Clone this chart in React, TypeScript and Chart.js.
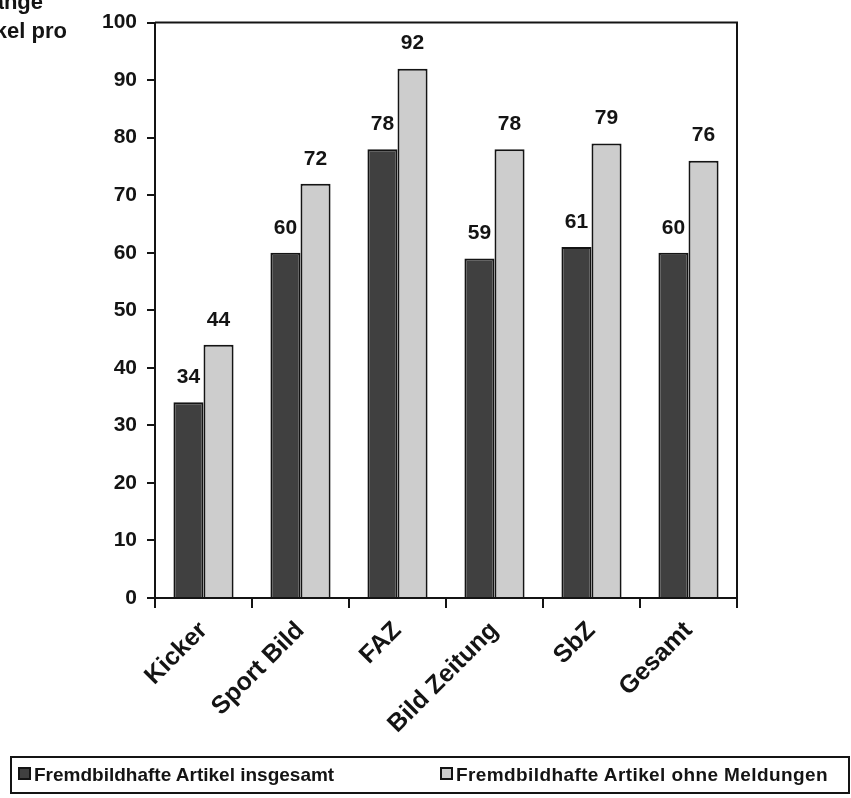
import React, { useEffect, useRef } from "react";
import { Chart, registerables } from "chart.js";

Chart.register(...registerables);

const categories = ["Kicker", "Sport Bild", "FAZ", "Bild Zeitung", "SbZ", "Gesamt"];
const seriesInsgesamt = [34, 60, 78, 59, 61, 60];
const seriesOhneMeldungen = [44, 72, 92, 78, 79, 76];
const seriesNames = ["Fremdbildhafte Artikel insgesamt", "Fremdbildhafte Artikel ohne Meldungen"];
const yTicks = [0, 10, 20, 30, 40, 50, 60, 70, 80, 90, 100];
const titleLines = ["Länge", "Artikel pro"];

const W = 851;
const H = 798;
const FONT = "'Liberation Sans', Arial, sans-serif";
const INK = "#141414";
const DARK = "#404040";
const LIGHT = "#cdcdcd";

const framePlugin = {
  id: "frame",
  afterDraw(chart: any) {
    const { ctx, chartArea } = chart;
    ctx.save();
    ctx.strokeStyle = INK;
    ctx.lineWidth = 2;
    ctx.beginPath();
    ctx.moveTo(chartArea.left, chartArea.top);
    ctx.lineTo(chartArea.right, chartArea.top);
    ctx.lineTo(chartArea.right, chartArea.bottom);
    ctx.stroke();
    ctx.restore();
  },
};

const valueLabelPlugin = {
  id: "valueLabels",
  afterDatasetsDraw(chart: any) {
    const { ctx } = chart;
    ctx.save();
    ctx.font = `bold 21px ${FONT}`;
    ctx.fillStyle = INK;
    ctx.textAlign = "center";
    ctx.textBaseline = "middle";
    chart.data.datasets.forEach((ds: any, di: number) => {
      const meta = chart.getDatasetMeta(di);
      meta.data.forEach((bar: any, i: number) => {
        ctx.fillText(String(ds.data[i]), bar.x, bar.y - 25);
      });
    });
    ctx.restore();
  },
};

const titlePlugin = {
  id: "clippedTitle",
  afterDraw(chart: any) {
    const { ctx } = chart;
    ctx.save();
    ctx.font = `bold 22px ${FONT}`;
    ctx.fillStyle = INK;
    ctx.textAlign = "right";
    ctx.textBaseline = "alphabetic";
    ctx.fillText(titleLines[0], 43, 9);
    ctx.fillText(titleLines[1], 67, 38);
    ctx.restore();
  },
};

export default function App() {
  const canvasRef = useRef<HTMLCanvasElement | null>(null);

  useEffect(() => {
    if (!canvasRef.current) return;
    const chart = new Chart(canvasRef.current, {
      type: "bar",
      data: {
        labels: categories,
        datasets: [
          {
            label: seriesNames[0],
            data: seriesInsgesamt,
            backgroundColor: DARK,
            borderColor: INK,
            borderWidth: 2,
            barPercentage: 1,
            categoryPercentage: 0.62,
          },
          {
            label: seriesNames[1],
            data: seriesOhneMeldungen,
            backgroundColor: LIGHT,
            borderColor: INK,
            borderWidth: 2,
            barPercentage: 1,
            categoryPercentage: 0.62,
          },
        ],
      },
      options: {
        responsive: false,
        animation: false,
        devicePixelRatio: 1,
        layout: { padding: { left: 0, top: 17, right: 114, bottom: 0 } },
        plugins: {
          legend: { display: false },
          tooltip: { enabled: false },
          title: { display: false },
        },
        scales: {
          x: {
            grid: {
              display: true,
              drawOnChartArea: false,
              drawTicks: true,
              tickLength: 10,
              color: INK,
              lineWidth: 2,
              offset: true,
            },
            border: { display: true, color: INK, width: 2 },
            ticks: {
              color: INK,
              font: { family: FONT, size: 25, weight: "bold" },
              maxRotation: 45,
              minRotation: 45,
              padding: 8,
            },
            afterFit(scale: any) {
              scale.height = H - 598;
            },
          },
          y: {
            min: 0,
            max: 100,
            afterBuildTicks(scale: any) {
              scale.ticks = yTicks.map((v) => ({ value: v }));
            },
            grid: {
              display: true,
              drawOnChartArea: false,
              drawTicks: true,
              tickLength: 8,
              color: INK,
              lineWidth: 2,
            },
            border: { display: true, color: INK, width: 2 },
            ticks: {
              color: INK,
              font: { family: FONT, size: 21, weight: "bold" },
              padding: 10,
            },
            afterFit(scale: any) {
              scale.width = 155;
            },
          },
        },
      } as any,
      plugins: [framePlugin, valueLabelPlugin, titlePlugin],
    });
    return () => chart.destroy();
  }, []);

  const marker = (color: string): React.CSSProperties => ({
    display: "inline-block",
    width: 9,
    height: 9,
    background: color,
    border: `2px solid ${INK}`,
    marginRight: 3,
    verticalAlign: "middle",
    position: "relative",
    top: -2,
  });

  const itemStyle: React.CSSProperties = {
    position: "absolute",
    top: 6,
    fontFamily: FONT,
    fontWeight: "bold",
    fontSize: 19,
    color: INK,
    whiteSpace: "nowrap",
    lineHeight: "22px",
  };

  return (
    <div style={{ position: "fixed", left: 0, top: 0, width: W, height: H, background: "#fff" }}>
      <canvas ref={canvasRef} width={W} height={H} style={{ width: W, height: H, display: "block" }} />
      <div
        style={{
          position: "absolute",
          left: 10,
          top: 756,
          width: 840,
          height: 38,
          border: `2px solid ${INK}`,
          boxSizing: "border-box",
        }}
      >
        <div style={{ ...itemStyle, left: 6 }}>
          <span style={marker(DARK)} />
          {seriesNames[0]}
        </div>
        <div style={{ ...itemStyle, left: 428, letterSpacing: "0.4px" }}>
          <span style={marker(LIGHT)} />
          {seriesNames[1]}
        </div>
      </div>
    </div>
  );
}
